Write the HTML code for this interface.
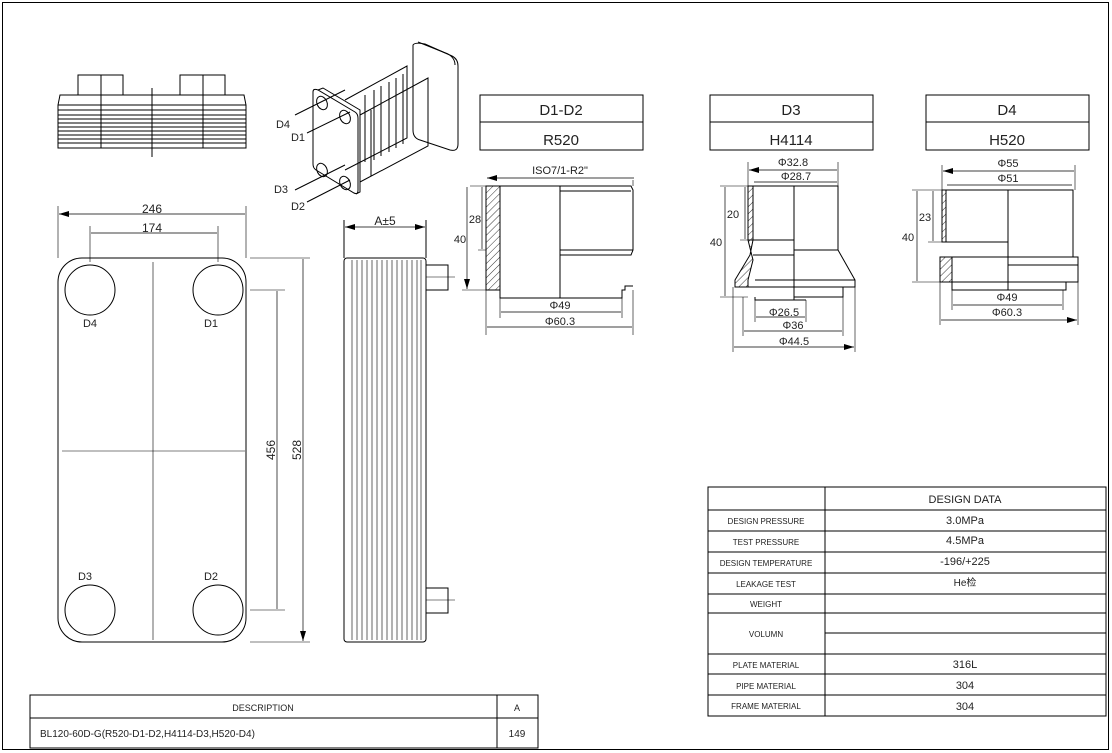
<!DOCTYPE html>
<html><head><meta charset="utf-8"><style>
html,body{margin:0;padding:0;background:#fff}
svg{display:block}
text{font-family:"Liberation Sans",sans-serif;fill:#222}
</style></head><body>
<svg width="1112" height="753" viewBox="0 0 1112 753" xmlns="http://www.w3.org/2000/svg">
<defs>
<marker id="a" viewBox="0 0 10 6" refX="10" refY="3" markerWidth="10" markerHeight="6" orient="auto-start-reverse" markerUnits="userSpaceOnUse"><path d="M0,0L10,3L0,6z" fill="#000"/></marker>
<pattern id="h" width="5" height="5" patternUnits="userSpaceOnUse" patternTransform="rotate(45)"><line x1="0" y1="0" x2="0" y2="5" stroke="#000" stroke-width="0.8"/></pattern>
</defs>
<g fill="none" stroke="#000" stroke-width="1">
<rect x="2.5" y="2.5" width="1106" height="747"/>
<!-- top view -->
<rect x="78" y="75" width="23" height="20"/><rect x="101" y="75" width="22" height="20"/>
<rect x="180" y="75" width="23" height="20"/><rect x="203" y="75" width="22" height="20"/>
<path d="M60,95H244L246,105V148H58V105Z"/>
<path d="M58,105H246M58,110H246M58,115H246M58,119H246M58,123H246M58,127H246M58,131H246M58,135H246M58,139H246M58,143H246"/>
<path d="M101,95V148M203,95V148M152,88V157"/>
<!-- isometric -->
<path d="M313,92Q313,88 318,90L355,112Q358,114 358,118V190Q358,195 354,193L316,170Q313,168 313,164Z"/>
<path d="M318,90L323,88L360,110V192L356,194"/>
<ellipse cx="322" cy="103" rx="5" ry="7" transform="rotate(-25 322 103)"/>
<ellipse cx="345" cy="117" rx="5" ry="7" transform="rotate(-25 345 117)"/>
<ellipse cx="322" cy="170" rx="5" ry="7" transform="rotate(-25 322 170)"/>
<ellipse cx="345" cy="183" rx="5" ry="7" transform="rotate(-25 345 183)"/>
<path d="M413,45Q415,42 425,44L452,56Q458,59 458,66V144Q458,152 450,150L420,140Q413,138 413,130Z"/>
<path d="M418,42L448,54Q455,58 455,65"/>
<path d="M345,100L407,66V138L345,170M374,90V160M381,86V156M389,82V152M396,78V148M403,74V144M365,95V162"/>
<path d="M360,115L428,78V146L360,182M371,110V176" />
<path d="M295,115L345,90M307,133L350,112M295,190L345,165M307,202L350,180"/>
<!-- front view -->
<rect x="58" y="258" width="188" height="384" rx="24"/>
<circle cx="90" cy="290" r="25"/><circle cx="218" cy="290" r="25"/>
<circle cx="90" cy="610" r="25"/><circle cx="218" cy="610" r="25"/>
<path d="M62,451H245M153,262V640" stroke-width="0.6"/>
<path d="M58,258V206M246,258V206M90,262V226M218,262V226M250,290H285M250,610H285M250,258H310M250,642H310" stroke-width="0.6"/>
<path d="M59,214H245M91,233H217M277,291V609M303,259V641" marker-start="url(#a)" marker-end="url(#a)" stroke-width="0.7"/>
<!-- side view -->
<rect x="344" y="258" width="82" height="384" rx="3"/>
<path d="M352,260V640M357,260V640M362,260V640M367,260V640M372,260V640M377,260V640M382,260V640M387,260V640M392,260V640M397,260V640M402,260V640M407,260V640M412,260V640M417,260V640M421,260V640" stroke-width="0.6"/>
<rect x="426" y="265" width="22" height="25"/><rect x="426" y="588" width="22" height="25"/>
<path d="M426,277H455M426,600H455" stroke-width="0.6"/>
<path d="M344,258V220M426,258V220"/>
<path d="M345,227H425" marker-start="url(#a)" marker-end="url(#a)" stroke-width="0.7"/>
<!-- header boxes -->
<rect x="480" y="95" width="163" height="55"/><path d="M480,122H643"/>
<rect x="710" y="95" width="163" height="55"/><path d="M710,122H873"/>
<rect x="926" y="95" width="163" height="55"/><path d="M926,122H1089"/>
<!-- D1-D2 fitting -->
<rect x="486" y="186" width="14" height="104" fill="url(#h)"/>
<path d="M500,186H631L633,190V250L631,255H560M560,191H631M560,250H633M500,186V298H622V290H625V286H633M500,290H486M560,186V298" />
<path d="M560,186V298" stroke-dasharray="12,3,2,3"/>
<path d="M486,186V335M633,186V180M500,298V318M622,298V318M633,290V335M486,186H470M486,290H462M486,250H478" stroke-width="0.6"/>
<path d="M487,178H634M501,312H621M487,327H632M482,187V249M467,187V289" marker-start="url(#a)" marker-end="url(#a)" stroke-width="0.7"/>
<!-- D3 fitting -->
<rect x="748" y="186" width="5" height="54" fill="url(#h)"/>
<path d="M748,240L753,240L750,255L735,280V287L748,287V280L753,260Z" fill="url(#h)"/>
<path d="M753,186H838V250L855,280V287H748M753,240H794M753,255H794M755,280H855M794,186V300M794,297H843V287M755,297V300H806M838,250H794"/>
<path d="M748,186V162M838,186V162M755,300V322M806,300V322M743,297V336M843,297V336M733,287V352M855,287V352M748,186H720M748,297H720M748,240H740" stroke-width="0.6"/>
<path d="M749,170H837M754,182H837M745,187V239M725,187V296M756,317H805M744,331H842M734,347H854" marker-start="url(#a)" marker-end="url(#a)" stroke-width="0.7"/>
<!-- D4 fitting -->
<rect x="942" y="190" width="4" height="52" fill="url(#h)"/>
<rect x="940" y="257" width="12" height="25" fill="url(#h)"/>
<path d="M946,190H1073V257M946,242H1008M952,257H1078V282H952M952,282V290H1066V282M1008,190V290M1008,265H1078"/>
<path d="M1008,190V290" stroke-dasharray="12,3,2,3"/>
<path d="M942,190V165M1075,190V165M952,290V310M1063,290V310M940,282V325M1078,282V325M942,190H912M940,282H912M942,242H928" stroke-width="0.6"/>
<path d="M943,171H1074M947,185H1072M933,191V241M917,191V281M953,305H1062M941,320H1077" marker-start="url(#a)" marker-end="url(#a)" stroke-width="0.7"/>
<!-- design data table -->
<rect x="708" y="487" width="398" height="229"/>
<path d="M825,487V716M708,510H1106M708,531H1106M708,552H1106M708,573H1106M708,594H1106M708,613H1106M825,633H1106M708,654H1106M708,674H1106M708,695H1106"/>
<!-- description table -->
<rect x="30" y="695" width="508" height="53"/>
<path d="M30,718H538M497,695V748"/>
</g>
<g font-size="12" text-anchor="middle">
<text x="152" y="213">246</text><text x="152" y="232">174</text>
<text x="385" y="225">A±5</text>
<text x="90" y="327" font-size="11">D4</text><text x="211" y="327" font-size="11">D1</text>
<text x="85" y="580" font-size="11">D3</text><text x="211" y="580" font-size="11">D2</text>
<text x="283" y="128" font-size="11">D4</text><text x="298" y="141" font-size="11">D1</text>
<text x="281" y="193" font-size="11">D3</text><text x="298" y="210" font-size="11">D2</text>
<text transform="translate(275,450) rotate(-90)">456</text>
<text transform="translate(301,450) rotate(-90)">528</text>
<text x="561" y="115" font-size="15">D1-D2</text><text x="561" y="145" font-size="15">R520</text>
<text x="791" y="115" font-size="15">D3</text><text x="791" y="145" font-size="15">H4114</text>
<text x="1007" y="115" font-size="15">D4</text><text x="1007" y="145" font-size="15">H520</text>
<text x="560" y="174" font-size="11">ISO7/1-R2"</text>
<text x="475" y="223" font-size="11">28</text><text x="460" y="243" font-size="11">40</text>
<text x="560" y="309" font-size="11">Φ49</text><text x="560" y="325" font-size="11">Φ60.3</text>
<text x="793" y="166" font-size="11">Φ32.8</text><text x="796" y="180" font-size="11">Φ28.7</text>
<text x="733" y="218" font-size="11">20</text><text x="716" y="246" font-size="11">40</text>
<text x="784" y="316" font-size="11">Φ26.5</text><text x="793" y="329" font-size="11">Φ36</text>
<text x="794" y="345" font-size="11">Φ44.5</text>
<text x="1008" y="167" font-size="11">Φ55</text><text x="1008" y="182" font-size="11">Φ51</text>
<text x="925" y="221" font-size="11">23</text><text x="908" y="241" font-size="11">40</text>
<text x="1007" y="301" font-size="11">Φ49</text><text x="1007" y="316" font-size="11">Φ60.3</text>
</g>
<g font-size="8" text-anchor="middle">
<text x="766" y="524">DESIGN PRESSURE</text>
<text x="766" y="545">TEST PRESSURE</text>
<text x="766" y="566">DESIGN TEMPERATURE</text>
<text x="766" y="587">LEAKAGE TEST</text>
<text x="766" y="607">WEIGHT</text>
<text x="766" y="637">VOLUMN</text>
<text x="766" y="668">PLATE MATERIAL</text>
<text x="766" y="689">PIPE MATERIAL</text>
<text x="766" y="709">FRAME MATERIAL</text>
</g>
<g font-size="11" text-anchor="middle">
<text x="965" y="503">DESIGN DATA</text>
<text x="965" y="524">3.0MPa</text>
<text x="965" y="544">4.5MPa</text>
<text x="965" y="565">-196/+225</text>
<text x="965" y="586" font-family="'Liberation Sans','Noto Sans CJK SC',sans-serif" font-size="10">He检</text>
<text x="965" y="668">316L</text>
<text x="965" y="689">304</text>
<text x="965" y="710">304</text>
<text x="263" y="711" font-size="9">DESCRIPTION</text>
<text x="517" y="711" font-size="9">A</text>
<text x="517" y="737" font-size="10">149</text>
<text x="40" y="737" font-size="10" text-anchor="start">BL120-60D-G(R520-D1-D2,H4114-D3,H520-D4)</text>
</g>
</svg>
</body></html>
